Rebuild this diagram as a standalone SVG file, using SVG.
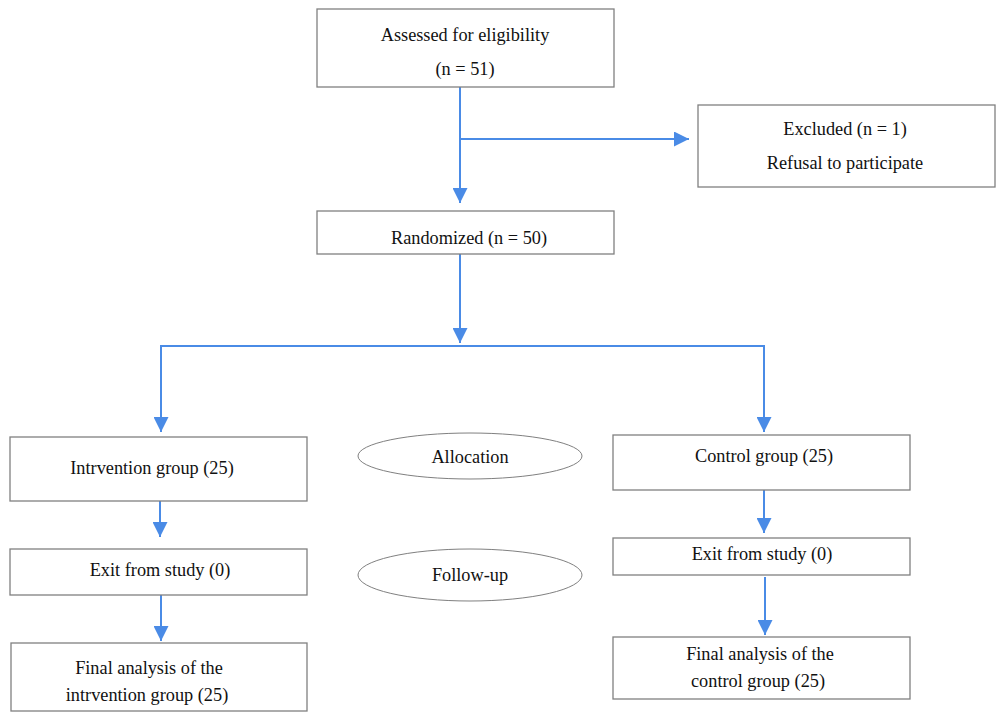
<svg xmlns="http://www.w3.org/2000/svg" width="1000" height="728" viewBox="0 0 1000 728">
<defs>
<marker id="ah" viewBox="0 0 10 10" refX="10" refY="5" markerWidth="15" markerHeight="15" markerUnits="userSpaceOnUse" orient="auto">
<path d="M0,0 L10,5 L0,10 Z" fill="#4a8be6"/>
</marker>
<style>
.box{fill:#fff;stroke:#808080;stroke-width:1.3}
.t{font-family:"Liberation Serif",serif;font-size:18.3px;fill:#111;text-anchor:middle}
.c{fill:none;stroke:#4a8be6;stroke-width:2}
</style>
</defs>
<rect width="1000" height="728" fill="#fff"/>
<g id="connectors">
<path class="c" d="M460,87 V203" marker-end="url(#ah)"/>
<path class="c" d="M460,139 H689" marker-end="url(#ah)"/>
<path class="c" d="M460,254 V343" marker-end="url(#ah)"/>
<path class="c" d="M161,432 V346 H764 V432"/>
<path class="c" d="M161,346 V432" marker-end="url(#ah)"/>
<path class="c" d="M764,346 V432" marker-end="url(#ah)"/>
<path class="c" d="M160,501 V537" marker-end="url(#ah)"/>
<path class="c" d="M161,595 V641" marker-end="url(#ah)"/>
<path class="c" d="M764,490 V533" marker-end="url(#ah)"/>
<path class="c" d="M765,577 V635" marker-end="url(#ah)"/>
</g>
<g id="assessed"><rect class="box" x="317" y="9" width="297" height="78"/><text class="t" x="465" y="41">Assessed for eligibility</text><text class="t" x="465" y="75">(n = 51)</text></g>
<g id="excluded"><rect class="box" x="698" y="105" width="297" height="82"/><text class="t" x="845" y="135">Excluded (n = 1)</text><text class="t" x="845" y="169">Refusal to participate</text></g>
<g id="randomized"><rect class="box" x="317" y="211" width="297" height="43"/><text class="t" x="469" y="244">Randomized (n = 50)</text></g>
<g id="intervention"><rect class="box" x="10" y="437" width="297" height="64"/><text class="t" x="152" y="474">Intrvention group (25)</text></g>
<g id="allocation"><ellipse cx="470" cy="456" rx="112" ry="23" fill="#fff" stroke="#808080" stroke-width="1"/><text class="t" x="470" y="463">Allocation</text></g>
<g id="control"><rect class="box" x="613" y="435" width="297" height="55"/><text class="t" x="764" y="462">Control group (25)</text></g>
<g id="exit-left"><rect class="box" x="10" y="549" width="297" height="46"/><text class="t" x="160" y="576">Exit from study (0)</text></g>
<g id="followup"><ellipse cx="470" cy="575" rx="112" ry="26" fill="#fff" stroke="#808080" stroke-width="1"/><text class="t" x="470" y="581">Follow-up</text></g>
<g id="exit-right"><rect class="box" x="613" y="538" width="297" height="37"/><text class="t" x="762" y="560">Exit from study (0)</text></g>
<g id="final-left"><rect class="box" x="11" y="643" width="296" height="68"/><text class="t" x="149" y="674">Final analysis of the</text><text class="t" x="147" y="701">intrvention group (25)</text></g>
<g id="final-right"><rect class="box" x="613" y="637" width="297" height="62"/><text class="t" x="760" y="660">Final analysis of the</text><text class="t" x="758" y="687">control group (25)</text></g>
</svg>
